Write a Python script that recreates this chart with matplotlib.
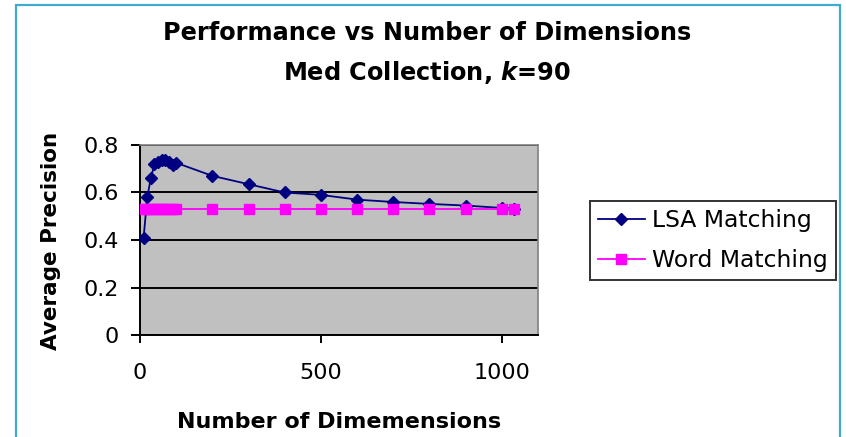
import matplotlib.pyplot as plt
from matplotlib.patches import Rectangle

# dimensions kept in the LSA model
dims = [10, 20, 30, 40, 50, 60, 70, 80, 90, 100,
        200, 300, 400, 500, 600, 700, 800, 900, 1000, 1033]
lsa_precision = [0.41, 0.58, 0.66, 0.72, 0.73, 0.735, 0.735, 0.73, 0.715, 0.725,
                 0.67, 0.635, 0.60, 0.59, 0.57, 0.56, 0.552, 0.545, 0.535, 0.532]
word_precision = [0.53, 0.53, 0.53, 0.53, 0.53, 0.53, 0.53, 0.53, 0.53, 0.53,
                  0.53, 0.53, 0.53, 0.53, 0.53, 0.53, 0.53, 0.53, 0.53, 0.53]
x_ticks = [0, 500, 1000]
y_ticks = [0, 0.2, 0.4, 0.6, 0.8]

plt.rcParams['font.family'] = 'DejaVu Sans'
plt.rcParams['mathtext.fontset'] = 'custom'
plt.rcParams['mathtext.it'] = 'DejaVu Sans:italic:bold'

W, H = 846, 437
fig = plt.figure(figsize=(W / 100, H / 100), dpi=100)

# outer chart frame
fig.patches.append(Rectangle((16 / W, -0.05), (840 - 16) / W, 0.05 + 1 - 5.5 / H,
                             transform=fig.transFigure, fill=False,
                             edgecolor='#3FABCF', linewidth=1.6))

ax = fig.add_axes([140 / W, 1 - 335 / H, (538 - 140) / W, (335 - 145) / H])
ax.set_facecolor('#C0C0C0')

ax.plot(dims, lsa_precision, color='#000080', marker='D', markersize=6.5,
        linewidth=1.3, label='LSA Matching', zorder=3)
ax.plot(dims, word_precision, color='#FF00FF', marker='s', markersize=7.5,
        linewidth=1.3, label='Word Matching', zorder=4)

ax.set_xlim(0, 1100)
ax.set_ylim(0, 0.8)
ax.set_xticks(x_ticks)
ax.set_yticks(y_ticks)
ax.set_yticklabels(['0', '0.2', '0.4', '0.6', '0.8'])
ax.yaxis.grid(True, color='black', linewidth=1.4)
ax.set_axisbelow(True)

for side in ['top', 'right']:
    ax.spines[side].set_color('#808080')
    ax.spines[side].set_linewidth(1.2)
for side in ['left', 'bottom']:
    ax.spines[side].set_color('black')
    ax.spines[side].set_linewidth(1.4)

ax.tick_params(axis='x', direction='out', length=6, width=1.4, pad=14,
               labelsize=16, colors='black')
ax.tick_params(axis='y', direction='out', length=6.5, width=1.4, pad=9,
               labelsize=16, colors='black')

fig.text(427 / W, 1 - 40 / H, 'Performance vs Number of Dimensions',
         ha='center', va='baseline', fontsize=17.3, fontweight='bold')
fig.text(427 / W, 1 - 80 / H, 'Med Collection, $k$=90',
         ha='center', va='baseline', fontsize=17.3, fontweight='bold')
fig.text(339 / W, 1 - 428 / H, 'Number of Dimemensions',
         ha='center', va='baseline', fontsize=16, fontweight='bold')
fig.text(51 / W, 1 - 241 / H, 'Average Precision', rotation=90,
         ha='center', va='center', fontsize=15.5, fontweight='bold')

leg = fig.legend(loc='upper left', bbox_to_anchor=(590 / W, 1 - 201 / H),
                 borderaxespad=0, fontsize=16.9, fancybox=False,
                 handlelength=2.0, handletextpad=0.3, labelspacing=0.72,
                 borderpad=0.34)
leg.get_frame().set_edgecolor('black')
leg.get_frame().set_linewidth(1.4)

fig.savefig('out.png', dpi=100)
